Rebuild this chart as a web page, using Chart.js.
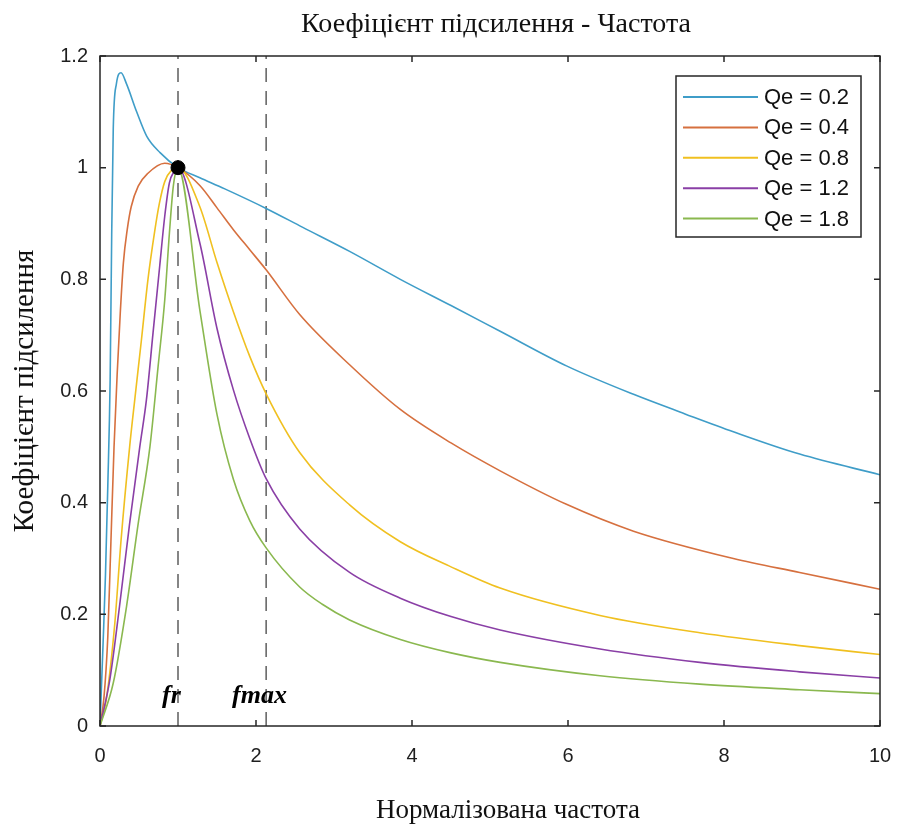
<!DOCTYPE html>
<html>
<head>
<meta charset="utf-8">
<script src="https://cdn.jsdelivr.net/npm/chart.js@4.4.0/dist/chart.umd.min.js"></script>
<style>
  html, body { margin: 0; padding: 0; background: #fff; }
</style>
</head>
<body>
<canvas id="gainChart" width="899" height="828"></canvas>
<script>
// values
var qe02X = [0, 0.04, 0.07, 0.10, 0.13, 0.15, 0.17, 0.21, 0.27, 0.34, 0.47, 0.60, 0.77, 1.0, 1.28, 1.6, 2.13, 2.6, 3.2, 3.85, 4.5, 5.13, 5.98, 6.84, 7.5, 8.12, 8.97, 10];
var qe02Y = [0, 0.15, 0.27, 0.43, 0.62, 0.88, 1.07, 1.15, 1.17, 1.15, 1.10, 1.056, 1.027, 1.0, 0.982, 0.962, 0.927, 0.893, 0.85, 0.80, 0.753, 0.707, 0.645, 0.594, 0.559, 0.527, 0.487, 0.45];

var qe04X = [0, 0.05, 0.10, 0.14, 0.18, 0.22, 0.26, 0.30, 0.35, 0.40, 0.49, 0.615, 0.83, 1.0, 1.28, 1.5, 1.71, 1.92, 2.13, 2.56, 3.2, 3.85, 4.5, 5.13, 5.98, 6.84, 8.12, 8.97, 10];
var qe04Y = [0, 0.05, 0.16, 0.33, 0.50, 0.63, 0.74, 0.83, 0.89, 0.93, 0.967, 0.99, 1.008, 1.0, 0.968, 0.928, 0.889, 0.853, 0.817, 0.737, 0.647, 0.567, 0.507, 0.457, 0.397, 0.349, 0.3, 0.275, 0.245];

var qe08X = [0, 0.08, 0.19, 0.27, 0.38, 0.45, 0.53, 0.615, 0.70, 0.76, 0.83, 0.92, 1.0, 1.28, 1.5, 1.71, 1.92, 2.13, 2.56, 3.2, 3.85, 4.5, 5.13, 6.41, 7.69, 8.97, 10];
var qe08Y = [0, 0.047, 0.184, 0.333, 0.50, 0.59, 0.69, 0.80, 0.885, 0.935, 0.975, 0.996, 1.0, 0.93, 0.83, 0.742, 0.662, 0.595, 0.49, 0.396, 0.33, 0.285, 0.247, 0.198, 0.167, 0.144, 0.128];

var qe12X = [0, 0.125, 0.25, 0.38, 0.51, 0.595, 0.68, 0.765, 0.83, 0.89, 0.95, 1.0, 1.28, 1.5, 1.71, 1.92, 2.13, 2.56, 3.2, 3.85, 4.5, 5.13, 6.41, 7.69, 8.97, 10];
var qe12Y = [0, 0.082, 0.214, 0.363, 0.50, 0.584, 0.704, 0.823, 0.913, 0.973, 0.993, 1.0, 0.865, 0.712, 0.602, 0.515, 0.443, 0.353, 0.275, 0.229, 0.196, 0.172, 0.138, 0.114, 0.097, 0.086];

var qe18X = [0, 0.17, 0.34, 0.49, 0.64, 0.745, 0.83, 0.89, 0.94, 1.0, 1.28, 1.5, 1.71, 1.92, 2.13, 2.56, 2.85, 3.2, 3.85, 4.5, 5.13, 6.41, 7.69, 8.97, 10];
var qe18Y = [0, 0.077, 0.214, 0.363, 0.50, 0.644, 0.763, 0.883, 0.967, 1.0, 0.745, 0.558, 0.442, 0.368, 0.319, 0.249, 0.218, 0.19, 0.155, 0.131, 0.114, 0.09, 0.075, 0.065, 0.058];

var seriesNames = ["Qe = 0.2", "Qe = 0.4", "Qe = 0.8", "Qe = 1.2", "Qe = 1.8"];
var seriesColors = ["#3f9dc8", "#d6703f", "#f0c020", "#8a3fa6", "#8ab84f"];

var xTickValues = [0, 2, 4, 6, 8, 10];
var xTickLabels = ["0", "2", "4", "6", "8", "10"];
var yTickValues = [0, 0.2, 0.4, 0.6, 0.8, 1.0, 1.2];
var yTickLabels = ["0", "0.2", "0.4", "0.6", "0.8", "1", "1.2"];

var frX = 1;
var fmaxX = 2.13;
var dotPoint = {x: 1, y: 1};

var titleText = "Коефіцієнт підсилення - Частота";
var xTitle = "Нормалізована частота";
var yTitle = "Коефіцієнт підсилення";

function pts(xs, ys) {
  return xs.map(function (x, i) { return {x: x, y: ys[i]}; });
}

var curveX = [qe02X, qe04X, qe08X, qe12X, qe18X];
var curveY = [qe02Y, qe04Y, qe08Y, qe12Y, qe18Y];

var datasets = [];
// dot on top
datasets.push({
  data: [dotPoint], showLine: false, pointRadius: 7, pointHoverRadius: 7,
  backgroundColor: "#000", borderColor: "#000", order: 0
});
for (var i = 0; i < curveX.length; i++) {
  datasets.push({
    label: seriesNames[i],
    data: pts(curveX[i], curveY[i]),
    showLine: true,
    borderColor: seriesColors[i],
    borderWidth: 1.6,
    pointRadius: 0,
    cubicInterpolationMode: "monotone",
    order: 5 - i
  });
}
[frX, fmaxX].forEach(function (v) {
  datasets.push({
    data: [{x: v, y: 0}, {x: v, y: 1.2}],
    showLine: true, borderColor: "#5e5e5e", borderWidth: 1.5,
    borderDash: [14, 9], pointRadius: 0, order: 6
  });
});

var frame = {
  id: "frame",
  afterDraw: function (chart) {
    var ctx = chart.ctx, a = chart.chartArea;
    var xs = chart.scales.x, ys = chart.scales.y;
    ctx.save();
    ctx.strokeStyle = "#262626";
    ctx.lineWidth = 1.5;
    ctx.strokeRect(a.left, a.top, a.right - a.left, a.bottom - a.top);
    ctx.beginPath();
    xTickValues.forEach(function (v) {
      var p = xs.getPixelForValue(v);
      ctx.moveTo(p, a.bottom); ctx.lineTo(p, a.bottom - 6);
      ctx.moveTo(p, a.top); ctx.lineTo(p, a.top + 6);
    });
    yTickValues.forEach(function (v) {
      var p = ys.getPixelForValue(v);
      ctx.moveTo(a.left, p); ctx.lineTo(a.left + 6, p);
      ctx.moveTo(a.right, p); ctx.lineTo(a.right - 6, p);
    });
    ctx.stroke();

    // legend
    var lx = 676, ly = 76, lw = 185, lh = 161;
    ctx.fillStyle = "#fff";
    ctx.fillRect(lx, ly, lw, lh);
    ctx.strokeStyle = "#262626";
    ctx.strokeRect(lx, ly, lw, lh);
    ctx.font = '22px "Liberation Sans", Arial, sans-serif';
    ctx.textBaseline = "middle";
    ctx.textAlign = "left";
    ctx.lineWidth = 2;
    for (var k = 0; k < seriesNames.length; k++) {
      var ry = 97 + k * 30.4;
      ctx.strokeStyle = seriesColors[k];
      ctx.beginPath(); ctx.moveTo(683, ry); ctx.lineTo(758, ry); ctx.stroke();
      ctx.fillStyle = "#111";
      ctx.fillText(seriesNames[k], 764, ry + 1);
    }

    // fr / fmax
    ctx.fillStyle = "#000";
    ctx.textBaseline = "alphabetic";
    ctx.font = 'bold italic 26px "Liberation Serif", "Times New Roman", serif';
    ctx.fillText("fr", 162, 703);
    ctx.fillText("fmax", 232, 703);

    // titles
    ctx.fillStyle = "#111";
    ctx.textAlign = "center";
    ctx.font = '28px "Liberation Serif", "Times New Roman", serif';
    ctx.fillText(titleText, 496, 32);
    ctx.font = '27px "Liberation Serif", "Times New Roman", serif';
    ctx.fillText(xTitle, 508, 818);
    ctx.font = '29px "Liberation Serif", "Times New Roman", serif';
    ctx.save();
    ctx.translate(33, 391);
    ctx.rotate(-Math.PI / 2);
    ctx.fillText(yTitle, 0, 0);
    ctx.restore();
    ctx.restore();
  }
};

var tickFont = {family: '"Liberation Sans", Arial, sans-serif', size: 20};

new Chart(document.getElementById("gainChart"), {
  type: "scatter",
  data: {datasets: datasets},
  options: {
    responsive: false,
    animation: false,
    layout: {padding: {top: 56, right: 19, bottom: 0, left: 0}},
    plugins: {legend: {display: false}, tooltip: {enabled: false}, title: {display: false}},
    scales: {
      x: {
        type: "linear", min: 0, max: 10,
        afterBuildTicks: function (s) { s.ticks = xTickValues.map(function (v) { return {value: v}; }); },
        afterFit: function (s) { s.height = 102; s.paddingLeft = 0; s.paddingRight = 0; },
        ticks: {
          callback: function (v, idx) { return xTickLabels[idx]; },
          font: tickFont, color: "#1e1e1e", padding: 18, maxRotation: 0, autoSkip: false
        },
        grid: {display: false, drawTicks: false},
        border: {display: false}
      },
      y: {
        type: "linear", min: 0, max: 1.2,
        afterBuildTicks: function (s) { s.ticks = yTickValues.map(function (v) { return {value: v}; }); },
        afterFit: function (s) { s.width = 100; s.paddingTop = 0; s.paddingBottom = 0; },
        ticks: {
          callback: function (v, idx) { return yTickLabels[idx]; },
          font: tickFont, color: "#1e1e1e", padding: 12, autoSkip: false
        },
        grid: {display: false, drawTicks: false},
        border: {display: false}
      }
    }
  },
  plugins: [frame]
});
</script>
</body>
</html>
